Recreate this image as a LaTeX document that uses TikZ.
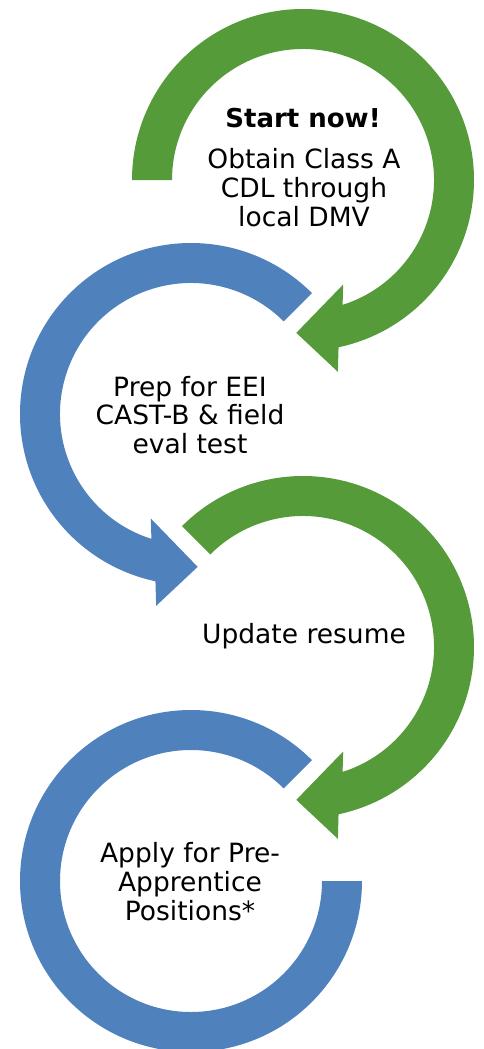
\documentclass[tikz,border=0pt]{standalone}
\usepackage{fontspec}
\setmainfont{DejaVu Sans}
\definecolor{arrowgreen}{HTML}{559B3A}
\definecolor{arrowblue}{HTML}{4F81BD}
\tikzset{
  lbl/.style={anchor=base, inner sep=0pt, font=\fontsize{26.5}{29}\selectfont},
  lblbold/.style={anchor=base, inner sep=0pt, font=\fontsize{26}{29}\selectfont\bfseries},
}
\begin{document}
\begin{tikzpicture}[x=1pt,y=1pt]
\useasboundingbox (0,0) rectangle (484,-1049);
% ---- green arrow 1 (clockwise, from the left) ----
\begin{scope}[shift={(303,-180)}]
\fill[arrowgreen] (180:171) arc[start angle=180, end angle=-78, radius=171]
  -- (-79.7:195) -- (-92.5:153) -- (-69:112)
  -- (-72.4:131) arc[start angle=-72.4, end angle=180, radius=131] -- cycle;
\end{scope}
% ---- blue arrow 2 (counter-clockwise) ----
\begin{scope}[shift={(191,-414)}]
\fill[arrowblue] (45:171) arc[start angle=45, end angle=258, radius=171]
  -- (259.7:195) -- (272.5:153) -- (249:112)
  -- (252.4:131) arc[start angle=252.4, end angle=45, radius=131] -- cycle;
\end{scope}
% ---- green arrow 3 (clockwise) ----
\begin{scope}[shift={(303,-647)}]
\fill[arrowgreen] (135:171) arc[start angle=135, end angle=-78, radius=171]
  -- (-79.7:195) -- (-92.5:153) -- (-69:112)
  -- (-72.4:131) arc[start angle=-72.4, end angle=135, radius=131] -- cycle;
\end{scope}
% ---- blue ring 4 (no head) ----
\begin{scope}[shift={(191,-881)}]
\fill[arrowblue] (45:171) arc[start angle=45, end angle=360, radius=171]
  -- (0:131) arc[start angle=360, end angle=45, radius=131] -- cycle;
\end{scope}
% ---- texts ----
\node[lblbold] (t1a) at (303,-127) {Start now!};
\node[lbl] (t1b) at (304,-168) {Obtain Class A};
\node[lbl] (t1c) at (304,-197) {CDL through};
\node[lbl] (t1d) at (304,-226) {local DMV};
\node[lbl] (t2a) at (190,-396) {Prep for EEI};
\node[lbl] (t2b) at (190,-424) {CAST-B \& field};
\node[lbl] (t2c) at (190,-453) {eval test};
\node[lbl] (t3a) at (304,-643) {Update resume};
\node[lbl] (t4a) at (190,-862) {Apply for Pre-};
\node[lbl] (t4b) at (190,-891) {Apprentice};
\node[lbl] (t4c) at (190,-920) {Positions*};
\end{tikzpicture}
\end{document}
